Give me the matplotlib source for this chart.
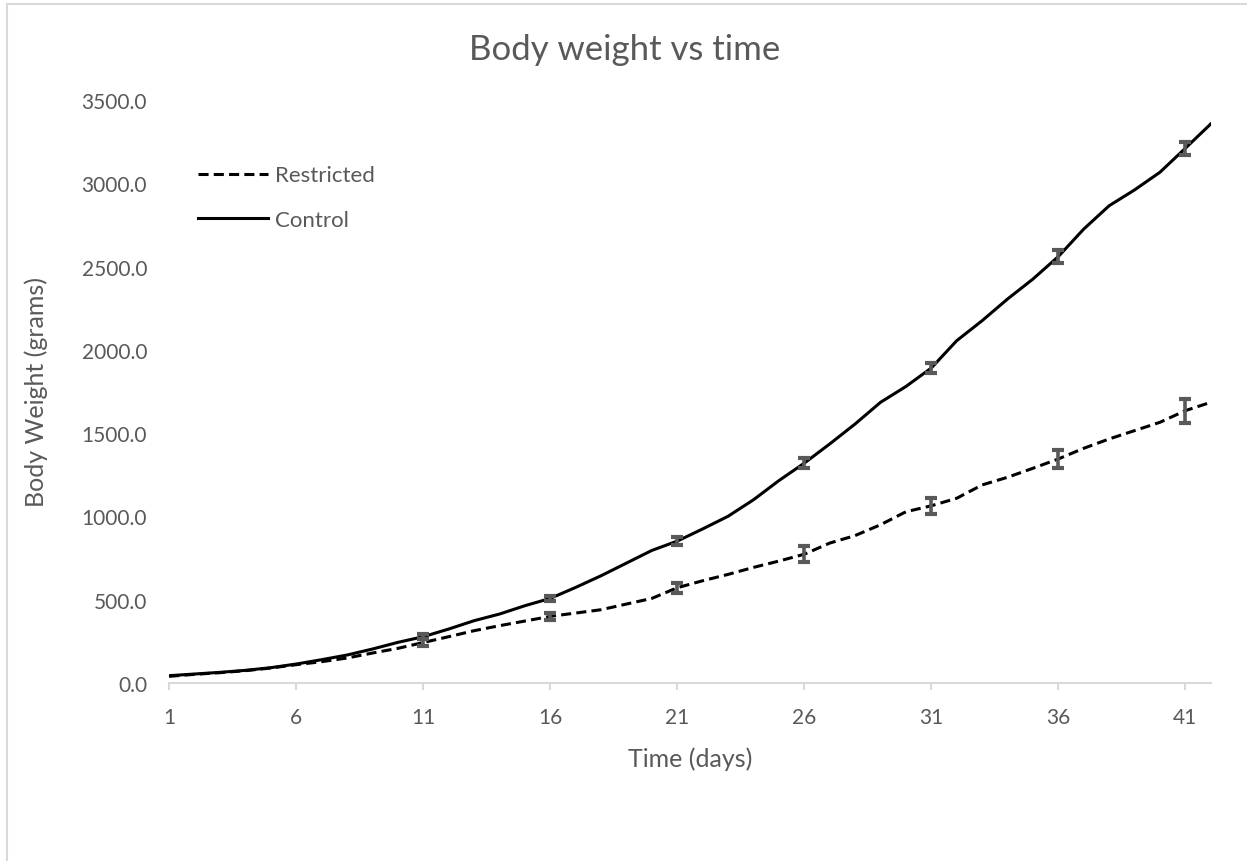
import matplotlib
matplotlib.use("Agg")
import matplotlib.pyplot as plt
from matplotlib.lines import Line2D

# Days 1..42 (category axis)
days = list(range(1, 43))

control = [44, 54, 64, 76, 92, 114, 140, 168, 204, 244,
           278, 324, 374, 414, 464, 508, 574, 644, 720, 796,
           852, 925, 1001, 1100, 1215, 1320, 1435, 1555, 1685, 1780,
           1891, 2055, 2175, 2305, 2425, 2560, 2725, 2865, 2960, 3066,
           3210, 3356]

restricted = [40, 52, 62, 74, 90, 110, 128, 150, 180, 208,
              243, 278, 314, 344, 372, 400, 420, 440, 474, 508,
              572, 614, 652, 694, 732, 773, 840, 885, 950, 1028,
              1064, 1109, 1189, 1235, 1289, 1345, 1409, 1465, 1515, 1565,
              1635, 1685]

# error bars only every 5 days
err_days = [11, 16, 21, 26, 31, 36, 41]
control_err = [15, 17, 25, 28, 32, 38, 38]
restricted_err = [20, 23, 31, 47, 49, 56, 72]

xtick_days = [1, 6, 11, 16, 21, 26, 31, 36, 41]
yticks = [0, 500, 1000, 1500, 2000, 2500, 3000, 3500]

GREY_TXT = "#595959"
GRID = "#d9d9d9"

plt.rcParams['font.family'] = ['Lato', 'DejaVu Sans']

fig = plt.figure(figsize=(12.47, 8.62), dpi=100)
ax = fig.add_axes([169.3 / 1247, 1 - 684 / 862, (1210.7 - 169.3) / 1247, (684 - 101) / 862])

ax.plot(days, restricted, color="black", lw=2.2, dashes=(3.3, 1.7), label="Restricted")
ax.plot(days, control, color="black", lw=2.2, label="Control")

ax.errorbar(err_days, [control[d - 1] for d in err_days], yerr=control_err,
            fmt="none", ecolor=GREY_TXT, elinewidth=2.6, capsize=4.5, capthick=3, zorder=3)
ax.errorbar(err_days, [restricted[d - 1] for d in err_days], yerr=restricted_err,
            fmt="none", ecolor=GREY_TXT, elinewidth=2.6, capsize=4.5, capthick=3, zorder=3)

ax.set_xlim(1, 42)
ax.set_ylim(0, 3500)
ax.set_xticks(xtick_days)
ax.set_yticks(yticks)
ax.set_yticklabels([f"{v:.1f}" for v in yticks])

for s in ["top", "right", "left"]:
    ax.spines[s].set_visible(False)
ax.spines["bottom"].set_color(GRID)
ax.spines["bottom"].set_linewidth(1.5)

ax.tick_params(axis="x", colors=GRID, length=5, width=1.5, pad=12, labelcolor=GREY_TXT, labelsize=15)
ax.tick_params(axis="y", length=0, pad=16, labelcolor=GREY_TXT, labelsize=15)

ax.set_xlabel("Time (days)", color=GREY_TXT, fontsize=18)
ax.set_ylabel("Body Weight (grams)", color=GREY_TXT, fontsize=18)
ax.xaxis.set_label_coords(0.5, -0.108)
ax.yaxis.set_label_coords(-0.1166, 0.5)
# chart title is centred on the whole chart, not the plot area
fig.text(625 / 1247, 1 - 50 / 862, "Body weight vs time", color=GREY_TXT, fontsize=25,
         ha="center", va="center")

leg = ax.legend(loc="upper left", bbox_to_anchor=(0.0276, 0.888), frameon=False,
                borderaxespad=0, borderpad=0,
                fontsize=16, handlelength=3.15, handletextpad=0.3, labelspacing=1.1,
                labelcolor=GREY_TXT)

# chart border (top and left visible)
fig.add_artist(Line2D([7 / 1247, 7 / 1247], [0, 1 - 5 / 862], color=GRID, lw=1.5))
fig.add_artist(Line2D([7 / 1247, 1], [1 - 5 / 862, 1 - 5 / 862], color=GRID, lw=1.5))

fig.savefig("out.png", dpi=100, facecolor="white")
